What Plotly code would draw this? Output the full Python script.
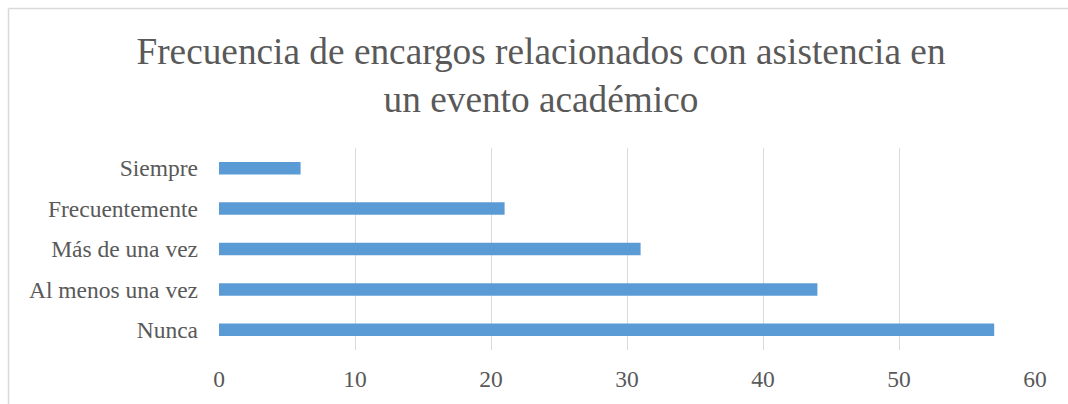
import plotly.graph_objects as go

categories = ["Nunca", "Al menos una vez", "Más de una vez", "Frecuentemente", "Siempre"]
values = [57, 44, 31, 21, 6]
x_ticks = [0, 10, 20, 30, 40, 50, 60]

W, H = 1068, 404
L, R, T, B = 219, 33, 148, 54

fig = go.Figure(go.Bar(
    y=categories, x=values, orientation="h",
    marker=dict(color="#5B9BD5", line=dict(width=0)),
    width=0.31,
))

font_family = "Liberation Serif"
fig.update_layout(
    width=W, height=H,
    margin=dict(l=L, r=R, t=T, b=B, pad=0),
    paper_bgcolor="white", plot_bgcolor="white",
    showlegend=False,
    font=dict(family=font_family, color="#595959", size=23.5),
    title=dict(
        text="Frecuencia de encargos relacionados con asistencia en<br>un evento académico",
        x=541 / W, xanchor="center", xref="container",
        y=1 - 64 / H, yanchor="middle", yref="container",
        font=dict(family=font_family, size=37.3, color="#595959"),
    ),
    xaxis=dict(
        range=[0, 60], tickvals=x_ticks, showgrid=True, gridcolor="#D9D9D9", gridwidth=1,
        zeroline=False, showline=False, ticks="", ticklabelstandoff=12,
        tickfont=dict(family=font_family, size=23.5, color="#595959"),
    ),
    yaxis=dict(
        categoryorder="array", categoryarray=categories,
        showgrid=False, zeroline=False, showline=False, ticks="",
        ticklabelstandoff=20, tickfont=dict(family=font_family, size=23.5, color="#595959"),
        range=[-0.5, 4.5],
    ),
    bargap=0.7,
)

# outer chart border (left and top visible)
px = lambda x: (x - L) / (W - L - R)
py = lambda y: 1 - (y - T) / (H - T - B)
border = "#D9D9D9"
fig.add_shape(type="line", xref="paper", yref="paper", x0=px(8.5), x1=px(8.5), y0=py(8.5), y1=py(404), line=dict(color=border, width=1.5))
fig.add_shape(type="line", xref="paper", yref="paper", x0=px(8.5), x1=px(1068), y0=py(8.5), y1=py(8.5), line=dict(color=border, width=1.5))

fig.write_html("out.html")
